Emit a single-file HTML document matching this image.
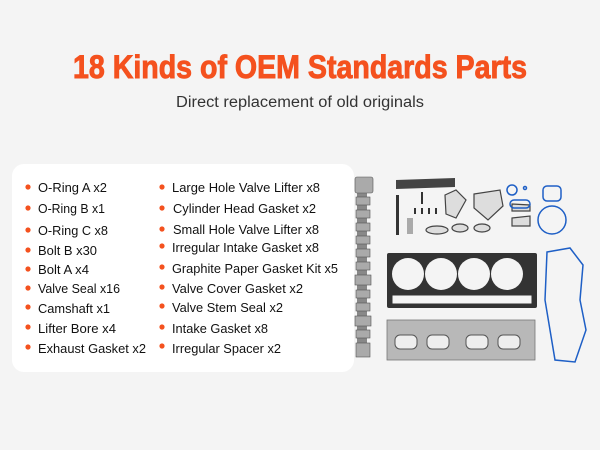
<!DOCTYPE html>
<html><head><meta charset="utf-8"><style>
html,body{margin:0;padding:0;background:#f4f4f4;width:600px;height:450px;overflow:hidden}
svg{display:block}
</style></head><body>
<svg width="600" height="450" viewBox="0 0 600 450" xmlns="http://www.w3.org/2000/svg" font-family="Liberation Sans, sans-serif">
<rect width="600" height="450" fill="#f4f4f4"/>
<text x="73" y="78" font-size="32" font-weight="bold" fill="#f4511e" stroke="#f4511e" stroke-width="0.9" textLength="454" lengthAdjust="spacingAndGlyphs">18 Kinds of OEM Standards Parts</text>
<text x="176" y="107" font-size="15.5" fill="#333" textLength="248" lengthAdjust="spacingAndGlyphs">Direct replacement of old originals</text>
<rect x="12" y="164" width="342" height="208" rx="12" fill="#fff"/>
<g fill="#f4511e">
<circle cx="28" cy="187" r="2.6"/><circle cx="28" cy="208" r="2.6"/><circle cx="28" cy="230" r="2.6"/><circle cx="28" cy="250" r="2.6"/><circle cx="28" cy="269" r="2.6"/><circle cx="28" cy="288" r="2.6"/><circle cx="28" cy="307" r="2.6"/><circle cx="28" cy="327" r="2.6"/><circle cx="28" cy="347" r="2.6"/>
<circle cx="162" cy="187" r="2.6"/><circle cx="162" cy="208" r="2.6"/><circle cx="162" cy="229" r="2.6"/><circle cx="162" cy="246" r="2.6"/><circle cx="162" cy="267" r="2.6"/><circle cx="162" cy="287" r="2.6"/><circle cx="162" cy="306" r="2.6"/><circle cx="162" cy="327" r="2.6"/><circle cx="162" cy="346" r="2.6"/>
</g>
<g font-size="12.5" fill="#111">
<text x="38" y="192" textLength="69" lengthAdjust="spacingAndGlyphs">O-Ring A x2</text>
<text x="38" y="213" textLength="67" lengthAdjust="spacingAndGlyphs">O-Ring B x1</text>
<text x="38" y="235" textLength="70" lengthAdjust="spacingAndGlyphs">O-Ring C x8</text>
<text x="38" y="255" textLength="59" lengthAdjust="spacingAndGlyphs">Bolt B x30</text>
<text x="38" y="274" textLength="51" lengthAdjust="spacingAndGlyphs">Bolt A x4</text>
<text x="38" y="293" textLength="82" lengthAdjust="spacingAndGlyphs">Valve Seal x16</text>
<text x="38" y="313" textLength="72" lengthAdjust="spacingAndGlyphs">Camshaft x1</text>
<text x="38" y="333" textLength="78" lengthAdjust="spacingAndGlyphs">Lifter Bore x4</text>
<text x="38" y="353" textLength="108" lengthAdjust="spacingAndGlyphs">Exhaust Gasket x2</text>
<text x="172" y="192" textLength="148" lengthAdjust="spacingAndGlyphs">Large Hole Valve Lifter x8</text>
<text x="173" y="213" textLength="143" lengthAdjust="spacingAndGlyphs">Cylinder Head Gasket x2</text>
<text x="173" y="234" textLength="146" lengthAdjust="spacingAndGlyphs">Small Hole Valve Lifter x8</text>
<text x="172" y="252" textLength="147" lengthAdjust="spacingAndGlyphs">Irregular Intake Gasket x8</text>
<text x="172" y="273" textLength="166" lengthAdjust="spacingAndGlyphs">Graphite Paper Gasket Kit x5</text>
<text x="172" y="293" textLength="131" lengthAdjust="spacingAndGlyphs">Valve Cover Gasket x2</text>
<text x="172" y="312" textLength="111" lengthAdjust="spacingAndGlyphs">Valve Stem Seal x2</text>
<text x="172" y="333" textLength="96" lengthAdjust="spacingAndGlyphs">Intake Gasket x8</text>
<text x="172" y="353" textLength="109" lengthAdjust="spacingAndGlyphs">Irregular Spacer x2</text>
</g>
<!-- camshaft -->
<rect x="357" y="177" width="10" height="180" fill="#888"/>
<g fill="#aaa" stroke="#555" stroke-width="0.6">
<rect x="355" y="177" width="18" height="16" rx="2"/>
<rect x="356" y="197" width="14" height="8"/><rect x="356" y="210" width="14" height="8"/><rect x="356" y="223" width="14" height="8"/><rect x="356" y="236" width="14" height="8"/><rect x="356" y="249" width="14" height="8"/><rect x="356" y="262" width="14" height="8"/><rect x="355" y="275" width="16" height="10"/><rect x="356" y="290" width="14" height="8"/><rect x="356" y="303" width="14" height="8"/><rect x="355" y="316" width="16" height="10"/><rect x="356" y="330" width="14" height="8"/><rect x="356" y="343" width="14" height="14"/>
</g>
<!-- small parts -->
<path d="M396 180 L455 178 L455 187 L396 189 Z" fill="#444"/>
<rect x="396" y="195" width="3" height="40" fill="#333"/>
<rect x="407" y="218" width="6" height="16" fill="#aaa"/>
<g fill="#333"><rect x="421" y="192" width="2" height="12"/><rect x="414" y="208" width="2" height="6"/><rect x="421" y="208" width="2" height="6"/><rect x="428" y="208" width="2" height="6"/><rect x="435" y="208" width="2" height="6"/></g>
<g fill="#ddd" stroke="#444" stroke-width="1.2">
<path d="M445 195 L456 190 L466 200 L456 218 L446 214 Z"/>
<path d="M474 194 L500 190 L503 206 L488 220 L474 208 Z"/>
<ellipse cx="437" cy="230" rx="11" ry="4"/><ellipse cx="460" cy="228" rx="8" ry="4"/><ellipse cx="482" cy="228" rx="8" ry="4"/>
<path d="M512 218 L530 216 L530 226 L512 226 Z"/><path d="M512 204 L530 205 L530 211 L512 211 Z"/>
</g>
<g fill="none" stroke="#1e5fc6" stroke-width="1.5">
<circle cx="512" cy="190" r="5"/><circle cx="525" cy="188" r="1.5"/>
<rect x="510" y="200" width="20" height="8" rx="4"/>
<rect x="543" y="186" width="18" height="15" rx="4"/>
<circle cx="552" cy="220" r="14"/>
<path d="M547 252 L570 248 L583 265 L580 300 L586 330 L575 362 L555 360 L545 300 Z"/>
</g>
<!-- head gasket -->
<rect x="387" y="253" width="150" height="55" rx="2" fill="#333"/>
<g fill="#f4f4f4"><circle cx="408" cy="274" r="16"/><circle cx="441" cy="274" r="16"/><circle cx="474" cy="274" r="16"/><circle cx="507" cy="274" r="16"/></g>
<rect x="392" y="295" width="140" height="9" fill="#f4f4f4" stroke="#333" stroke-width="1"/>
<!-- intake gasket -->
<rect x="387" y="320" width="148" height="40" fill="#b8b8b8" stroke="#777" stroke-width="0.8"/>
<g fill="#eee" stroke="#555"><rect x="395" y="335" width="22" height="14" rx="5"/><rect x="427" y="335" width="22" height="14" rx="5"/><rect x="466" y="335" width="22" height="14" rx="5"/><rect x="498" y="335" width="22" height="14" rx="5"/></g>
</svg>
</body></html>
